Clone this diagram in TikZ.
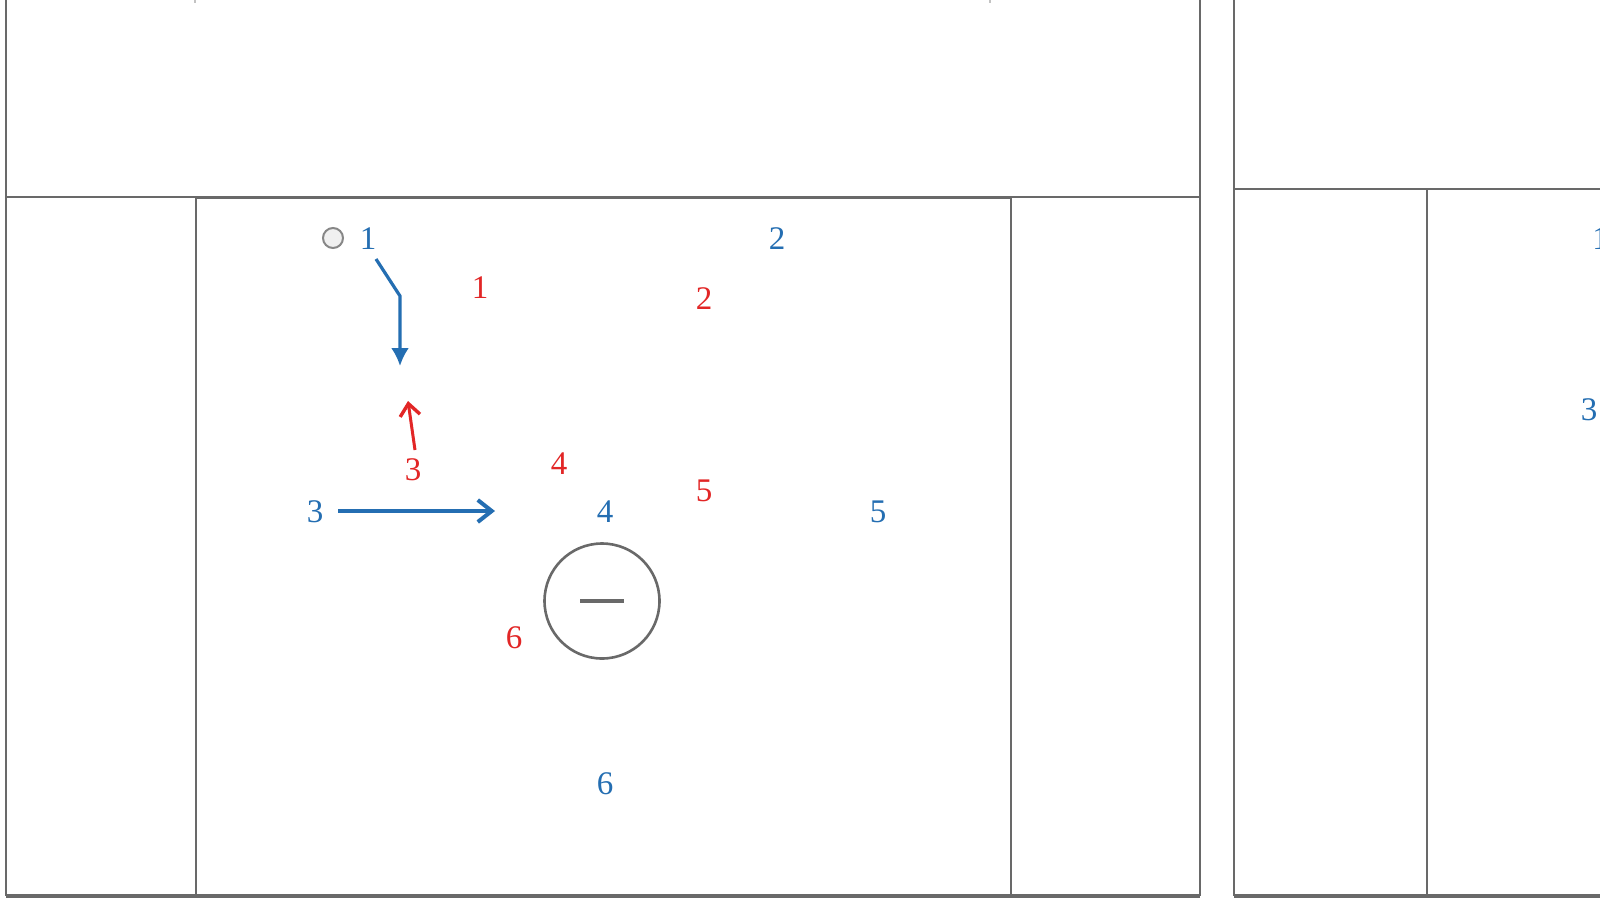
\documentclass[tikz,border=0pt]{standalone}
\usepackage{fontspec}
\setmainfont{Liberation Serif}
\usetikzlibrary{arrows.meta}
\definecolor{pblue}{RGB}{36,110,178}
\definecolor{pred}{RGB}{226,38,38}
\definecolor{pline}{RGB}{105,105,105}
\tikzset{
  frame/.style={draw=pline,line width=1.3pt},
  bottomline/.style={draw=pline,line width=2pt},
  bnum/.style={text=pblue,font=\fontsize{16.5}{16.5}\selectfont,inner sep=0pt},
  rnum/.style={text=pred,font=\fontsize{16.5}{16.5}\selectfont,inner sep=0pt},
  barrow/.style={draw=pblue,line width=1.6pt},
  rarrow/.style={draw=pred,line width=1.5pt},
}
\begin{document}
\begin{tikzpicture}[x=0.5pt,y=-0.5pt]
\useasboundingbox (0,0) rectangle (1600,900);
\fill[white] (0,0) rectangle (1600,900);
% left panel
\draw[frame] (6,0) -- (6,896);
\draw[frame] (1200,0) -- (1200,896);
\draw[frame] (6,197) -- (1200,197);
\draw[frame] (196,198) -- (196,896);
\draw[frame] (1011,198) -- (1011,896);
\draw[bottomline] (6,896) -- (1200,896);
\draw[frame] (196,198) -- (1011,198);
% faint marks at the top
\draw[pline!40,line width=1pt] (195,0) -- (195,3);
\draw[pline!40,line width=1pt] (990,0) -- (990,3);
% right panel
\draw[frame] (1234,0) -- (1234,896);
\draw[frame] (1234,189) -- (1600,189);
\draw[frame] (1427,189) -- (1427,896);
\draw[bottomline] (1234,896) -- (1600,896);
% ball
\node[draw=pline!80,fill=gray!12,circle,minimum size=10pt,inner sep=0pt,line width=1pt] (ball) at (333,238) {};
% blue players
\node[bnum] (b1) at (368,239) {1};
\node[bnum] (b2) at (777,239) {2};
\node[bnum] (b3) at (315,512) {3};
\node[bnum] (b4) at (605,512) {4};
\node[bnum] (b5) at (878,512) {5};
\node[bnum] (b6) at (605,784) {6};
% red players
\node[rnum] (r1) at (480,288) {1};
\node[rnum] (r2) at (704,299) {2};
\node[rnum] (r3) at (413,470) {3};
\node[rnum] (r4) at (559,464) {4};
\node[rnum] (r5) at (704,491) {5};
\node[rnum] (r6) at (514,638) {6};
% right panel partial labels
\node[bnum,anchor=west] (rb1) at (1592,239) {1};
\node[bnum] (rb3) at (1589,410) {3};
% goal circle
\node[draw=pline,circle,minimum size=57.5pt,line width=1.3pt,inner sep=0pt] (goal) at (602,601) {};
\draw[pline,line width=2.2pt] ([xshift=-11pt]goal.center) -- ([xshift=11pt]goal.center);
% arrows
\coordinate (b1s) at (376,259);
\coordinate (b1k) at (400,296);
\coordinate (b1e) at (400,366);
\draw[barrow,-{Latex[length=9pt,width=9pt]}] (b1s) -- (b1k) -- (b1e);
\coordinate (r3s) at (415,450);
\coordinate (r3e) at (408,401);
\draw[rarrow,-{Straight Barb[length=6pt,width=10pt,line width=1.7pt]}] (r3s) -- (r3e);
\coordinate (b3s) at (338,511);
\coordinate (b3e) at (495,511);
\draw[barrow,-{Straight Barb[length=7pt,width=11pt,line width=2pt]}] (b3s) -- (b3e);
\end{tikzpicture}
\end{document}
